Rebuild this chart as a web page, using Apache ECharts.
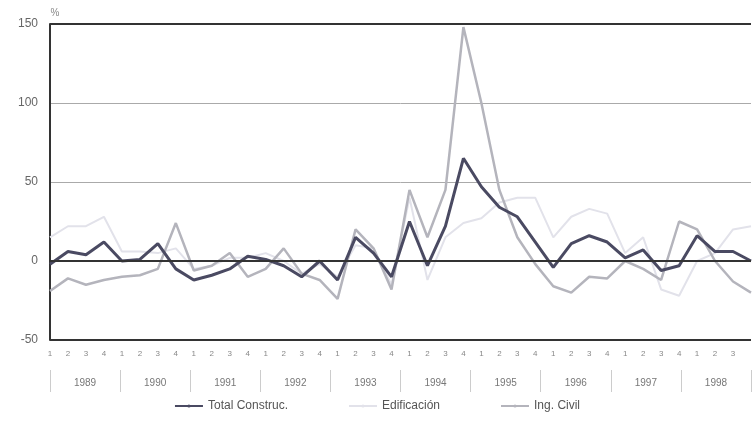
<!DOCTYPE html>
<html>
<head>
<meta charset="utf-8">
<script src="https://cdn.jsdelivr.net/npm/echarts@6/dist/echarts.min.js"></script>
<style>html,body{margin:0;padding:0;background:#fff}#chart{width:754px;height:445px}</style>
</head>
<body>
<div id="chart"></div>
<script>
var years = ['1989','1990','1991','1992','1993','1994','1995','1996','1997','1998'];
var quarters = [];
for (var i = 0; i < 40; i++) quarters.push(i < 39 ? String(i % 4 + 1) : '');
var totalConstruc = [-2,6,4,12, 0,1,11,-5, -12,-9,-5,3, 1,-3,-10,0, -12,15,5,-10,
    25,-3,22,65, 47,34,28,12, -4,11,16,12, 2,7,-6,-3, 16,6,6,0];
var edificacion = [15,22,22,28, 6,6,5,8, -5,-3,2,2, 5,0,-8,-2, -10,10,8,-15,
    40,-12,15,24, 27,37,40,40, 15,28,33,30, 5,15,-18,-22, 0,5,20,22];
var ingCivil = [-19,-11,-15,-12, -10,-9,-5,24, -6,-3,5,-10, -5,8,-8,-12, -24,20,8,-18,
    45,15,45,148, 100,45,15,-2, -16,-20,-10,-11, 0,-5,-12,25, 20,0,-13,-20];

var chart = echarts.init(document.getElementById('chart'));
var font = 'Liberation Sans';
var option = {
    animation: false,
    textStyle: { fontFamily: font },
    legend: {
        bottom: 28, left: 'center', itemWidth: 28, itemHeight: 4, itemGap: 60,
        textStyle: { color: '#555', fontSize: 12 },
        data: ['Total Construc.', 'Edificación', 'Ing. Civil']
    },
    grid: { left: 50, right: 0, top: 24, bottom: 105 },
    xAxis: [
        {
            type: 'category', data: quarters, boundaryGap: false,
            axisLine: { show: false }, axisTick: { show: false },
            axisLabel: { color: '#888', fontSize: 8, margin: 10, interval: 0 }
        },
        {
            type: 'category', data: years, position: 'bottom', offset: 30,
            axisLine: { show: false },
            axisTick: { show: true, length: 22, lineStyle: { color: '#ccc' } },
            axisLabel: { color: '#777', fontSize: 10, margin: 8 }
        }
    ],
    yAxis: {
        type: 'value', min: -50, max: 150, interval: 50,
        name: '%', nameGap: 6, nameTextStyle: { color: '#888', fontSize: 10, padding: [0, 0, 0, 10] },
        axisLine: { show: true, lineStyle: { color: '#333', width: 2 } },
        axisTick: { show: false },
        axisLabel: { color: '#666', fontSize: 12, margin: 12 },
        splitLine: { lineStyle: { color: '#aaa', width: 1 } }
    },
    series: [
        {
            name: 'Edificación', type: 'line', data: edificacion, symbol: 'none',
            lineStyle: { color: '#e2e2ea', width: 2 }, itemStyle: { color: '#e2e2ea' }
        },
        {
            name: 'Ing. Civil', type: 'line', data: ingCivil, symbol: 'none',
            lineStyle: { color: '#b4b4bc', width: 2.5 }, itemStyle: { color: '#b4b4bc' }
        },
        {
            name: 'Total Construc.', type: 'line', data: totalConstruc, symbol: 'none',
            lineStyle: { color: '#4a4a62', width: 3 }, itemStyle: { color: '#4a4a62' },
            markLine: {
                silent: true, symbol: 'none', label: { show: false },
                lineStyle: { color: '#333', width: 2, type: 'solid' },
                data: [{ yAxis: 0 }, { yAxis: 150 }, { yAxis: -50 }]
            }
        }
    ]
};
chart.setOption(option);
</script>
</body>
</html>
